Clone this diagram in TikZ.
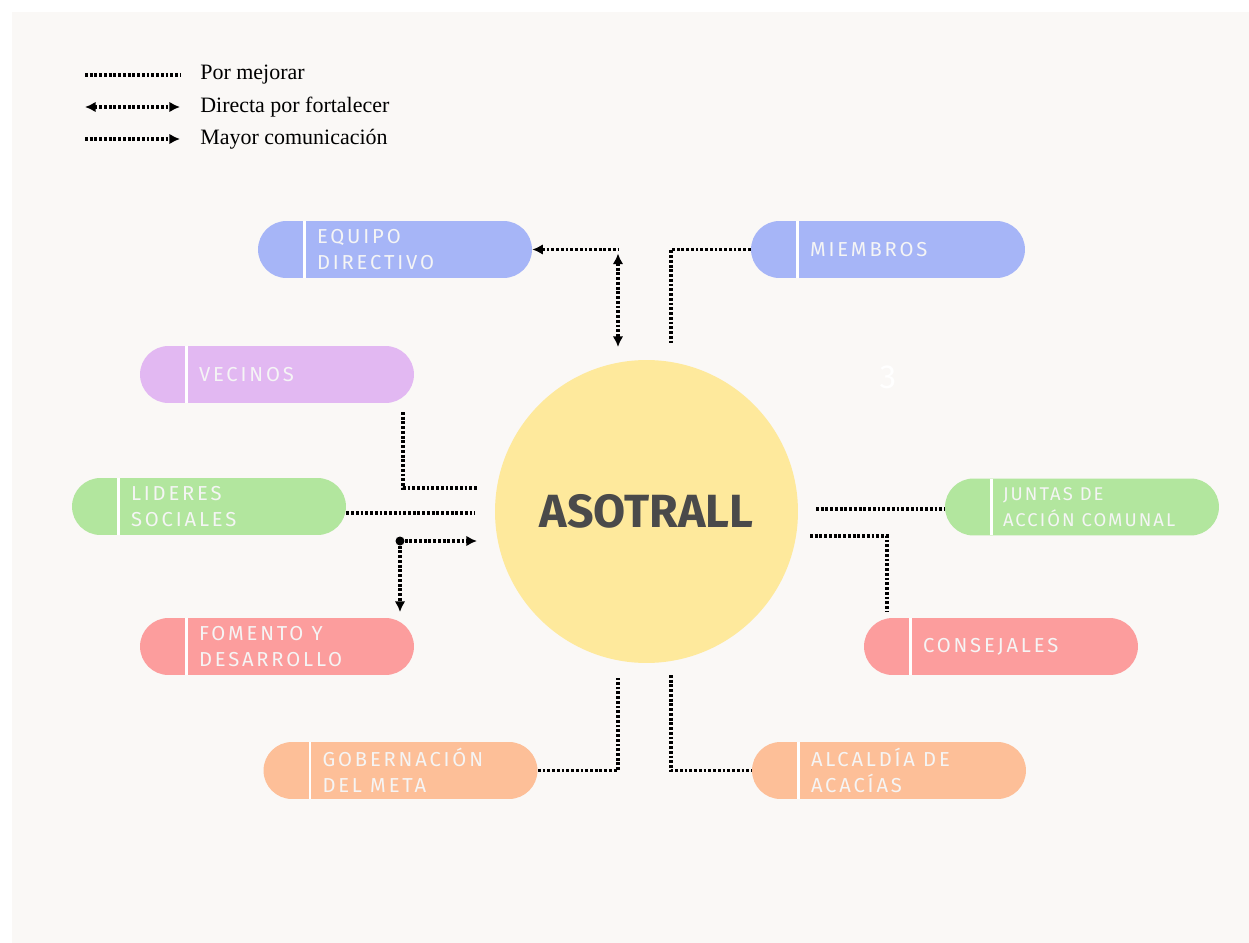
\documentclass[tikz,border=0pt]{standalone}
\usepackage{fontspec}
\setmainfont{Liberation Serif}
\newfontfamily\pillfont{Fira Sans}[LetterSpace=14.0]
\newfontfamily\smallpillfont{Fira Sans}[LetterSpace=11.0]
\newfontfamily\hubfont{Fira Sans}
\usetikzlibrary{positioning,arrows.meta}
\definecolor{paper}{HTML}{FAF8F6}
\definecolor{bluepill}{HTML}{A6B5F7}
\definecolor{lilacpill}{HTML}{E2B8F2}
\definecolor{greenpill}{HTML}{B2E69E}
\definecolor{redpill}{HTML}{FC9D9D}
\definecolor{peachpill}{HTML}{FDBF98}
\definecolor{hubyellow}{HTML}{FEE99C}
\definecolor{hubtext}{HTML}{4A4A4A}
\begin{document}
\begin{tikzpicture}[x=0.02cm,y=-0.02cm,
    pill/.style={fill=#1,rounded corners=0.57cm,minimum width=5.48cm,minimum height=1.14cm,inner sep=0pt,
        path picture={\draw[white,line width=1.3pt] ([xshift=0.93cm]path picture bounding box.north west) -- ([xshift=0.93cm]path picture bounding box.south west);}},
    lbl/.style={font=\pillfont\fontsize{11.5}{14.7}\selectfont,text=white!96!black,align=left,inner sep=0pt},
    legend/.style={font=\fontsize{12.5}{14}\selectfont,anchor=west,inner sep=0pt},
    dots/.style={line width=1.8pt,dash pattern=on 1.6pt off 1.1pt},
    tip/.tip={Latex[length=6pt,width=6pt]}]
% page and background
\fill[white] (0,0) rectangle (1249,943);
\fill[paper] (12,12) rectangle (1249,943);
% legend
\coordinate (l1a) at (85,75);
\coordinate (l1b) at (180,75);
\coordinate (l2a) at (85,107);
\coordinate (l2b) at (180,107);
\coordinate (l3a) at (85,139);
\coordinate (l3b) at (180,139);
\node[legend,right=0.4cm of l1b](leg1){Por mejorar};
\node[legend,right=0.4cm of l2b](leg2){Directa por fortalecer};
\node[legend,right=0.4cm of l3b](leg3){Mayor comunicación};
\draw[dots](l1a) -- (l1b);
\draw[dots,tip-tip](l2a) -- (l2b);
\draw[dots,-tip](l3a) -- (l3b);
% hub
\node[circle,fill=hubyellow,minimum size=6.06cm,inner sep=0pt,text=hubtext,font=\hubfont\bfseries\fontsize{26.5}{30}\selectfont](asotrall) at (646.5,511.5){ASOTRALL};
\node[text=white,font=\hubfont\fontsize{19}{22}\selectfont](three) at (888,377){3};
% actors
\node[pill=bluepill](equipo) at (395,249.5){};
\node[pill=bluepill](miembros) at (888,249.5){};
\node[pill=lilacpill](vecinos) at (277,374.5){};
\node[pill=greenpill](lideres) at (209,506.5){};
\node[pill=redpill](fomento) at (277,646.5){};
\node[pill=peachpill](gobernacion) at (400.5,770.5){};
\node[pill=peachpill](alcaldia) at (889,770.5){};
\node[pill=redpill](consejales) at (1001,646.5){};
\node[pill=greenpill](juntas) at (1082,507){};
\node[lbl,right=1.18cm of equipo.west](equipo txt){EQUIPO\\DIRECTIVO};
\node[lbl,right=1.18cm of miembros.west](miembros txt){MIEMBROS};
\node[lbl,right=1.18cm of vecinos.west](vecinos txt){VECINOS};
\node[lbl,right=1.18cm of lideres.west](lideres txt){LIDERES\\SOCIALES};
\node[lbl,right=1.18cm of fomento.west](fomento txt){FOMENTO Y\\DESARROLLO};
\node[lbl,right=1.18cm of gobernacion.west](gobernacion txt){GOBERNACIÓN\\DEL META};
\node[lbl,right=1.18cm of alcaldia.west](alcaldia txt){ALCALDÍA DE\\ACACÍAS};
\node[lbl,right=1.18cm of consejales.west](consejales txt){CONSEJALES};
\node[lbl,font=\smallpillfont\fontsize{10.5}{14.7}\selectfont,right=1.16cm of juntas.west](juntas txt){JUNTAS DE\\ACCIÓN COMUNAL};
% connectors
\coordinate (eqc) at (618,249.5);
\coordinate (eqd) at (618,347);
\coordinate (mbc) at (671,343);
\coordinate (vca) at (403,412);
\coordinate (vcb) at (478,488);
\coordinate (lic) at (475,513);
\coordinate (fmc) at (400,541);
\coordinate (fmr) at (477,541);
\coordinate (fmd) at (400,612);
\coordinate (jnc) at (816,509);
\coordinate (csc) at (810,536);
\coordinate (csd) at (887,611);
\coordinate (gbc) at (618,678);
\coordinate (alc) at (671,675);
\draw[dots,tip-](equipo.east) -- (eqc);
\draw[dots,tip-tip]([yshift=-0.08cm]eqc) -- (eqd);
\draw[dots](miembros.west) -| (mbc);
\draw[dots](vca) |- (vcb);
\draw[dots](lideres.east |- lic) -- (lic);
\fill(fmc) circle (0.09cm);
\draw[dots,-tip](fmc) -- (fmr);
\draw[dots,-tip](fmc) -- (fmd);
\draw[dots](jnc) -- (juntas.west |- jnc);
\draw[dots](csc) -| (csd);
\draw[dots](gobernacion.east) -| (gbc);
\draw[dots](alc) |- (alcaldia.west);
\end{tikzpicture}
\end{document}
